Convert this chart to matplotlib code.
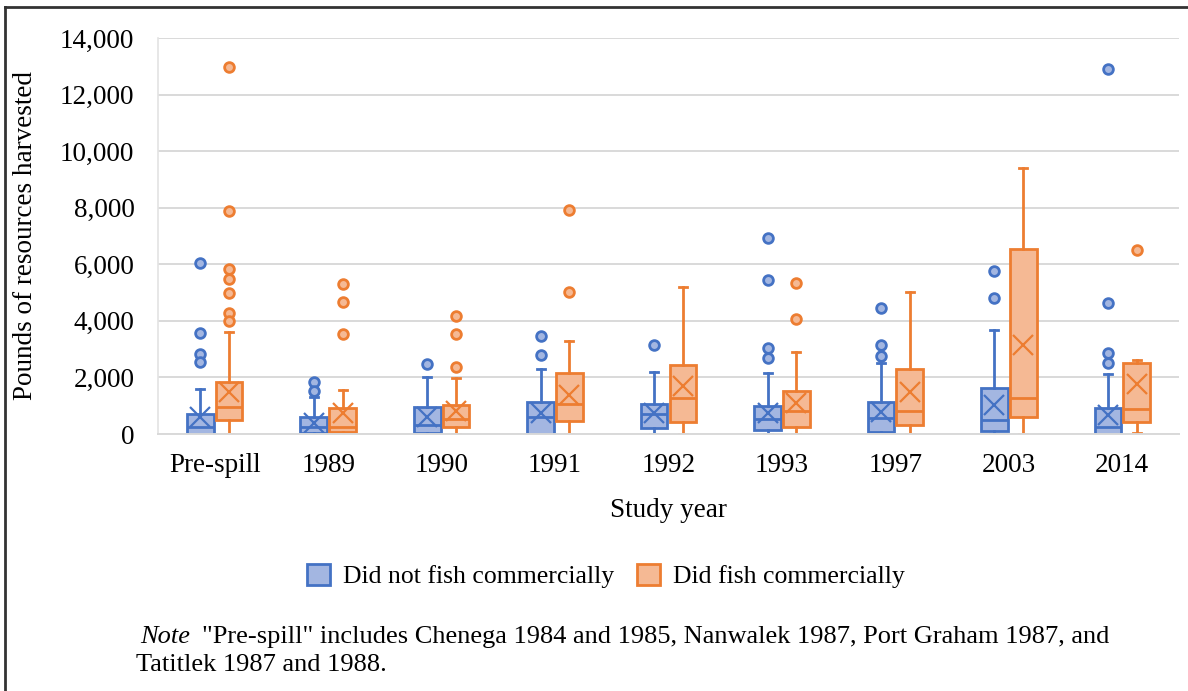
import numpy as np
import matplotlib
matplotlib.use('Agg')
import matplotlib.pyplot as plt
from matplotlib.patches import Patch
from matplotlib.lines import Line2D
from matplotlib.ticker import FuncFormatter

plt.rcParams['font.family'] = ['Liberation Serif', 'DejaVu Serif']

# data
categories = ['Pre-spill', '1989', '1990', '1991', '1992', '1993', '1997', '2003', '2014']

# did not fish commercially
no_lo = [0, 0, 0, 0, 0, 0, 0, 0, 0]
no_q1 = [0, 50, 25, 0, 200, 140, 80, 105, 0]
no_med = [260, 260, 320, 590, 695, 520, 555, 495, 235]
no_q3 = [707, 590, 965, 1120, 1050, 1000, 1120, 1615, 905]
no_hi = [1590, 1320, 2000, 2300, 2190, 2170, 2520, 3680, 2110]
no_mean = [600, 390, 590, 730, 730, 730, 790, 1025, 670]
no_out = [[6030, 3580, 2830, 2530], [1830, 1530], [2475], [3475, 2790], [3160],
          [6940, 5430, 3030, 2700], [4470, 3150, 2760], [5760, 4820],
          [12915, 4620, 2850, 2520]]

# did fish commercially
yes_lo = [0, 0, 0, 0, 0, 0, 0, 0, 50]
yes_q1 = [495, 80, 260, 460, 435, 260, 320, 610, 435]
yes_med = [965, 260, 520, 1060, 1260, 810, 810, 1260, 870]
yes_q3 = [1850, 930, 1025, 2145, 2440, 1520, 2300, 6540, 2500]
yes_hi = [3620, 1555, 1970, 3300, 5210, 2910, 5030, 9390, 2615]
yes_mean = [1500, 730, 810, 1380, 1700, 1085, 1470, 3145, 1755]
yes_out = [[12990, 7880, 5830, 5480, 4970, 4290, 3990], [5290, 4680, 3535],
           [4180, 3520, 2355], [7920, 5010], [], [5325, 4050], [], [], [6505]]

series_names = ['Did not fish commercially', 'Did fish commercially']
edge_cols = ['#4472C4', '#ED7D31']
face_cols = ['#A3B6E1', '#F5B994']

fig = plt.figure(figsize=(11.88, 6.91), dpi=100)
ax = fig.add_axes([158 / 1188, 1 - 434 / 691, (1179 - 158) / 1188, (434 - 38) / 691])

x = np.arange(len(categories))
groups = [(no_lo, no_q1, no_med, no_q3, no_hi, no_mean, no_out),
          (yes_lo, yes_q1, yes_med, yes_q3, yes_hi, yes_mean, yes_out)]
offsets = [-0.127, 0.127]

for (lo, q1, med, q3, hi, mean, out), off, ec, fc in zip(groups, offsets, edge_cols, face_cols):
    stats = []
    for i in range(len(categories)):
        stats.append(dict(whislo=lo[i], q1=q1[i], med=med[i], q3=q3[i], whishi=hi[i],
                          mean=mean[i], fliers=out[i]))
    ax.bxp(stats, positions=x + off, widths=0.235, patch_artist=True,
           showmeans=True, capwidths=0.07,
           boxprops=dict(facecolor=fc, edgecolor=ec, linewidth=2),
           medianprops=dict(color=ec, linewidth=2),
           whiskerprops=dict(color=ec, linewidth=2),
           capprops=dict(color=ec, linewidth=2),
           meanprops=dict(marker='x', markeredgecolor=ec, markersize=14, markeredgewidth=1.6),
           flierprops=dict(marker='o', markerfacecolor=fc, markeredgecolor=ec,
                           markersize=7, markeredgewidth=2))

ax.set_xlim(-0.5, len(categories) - 0.5)
ax.set_ylim(0, 14000)
ax.set_yticks(np.arange(0, 14001, 2000))
ax.yaxis.set_major_formatter(FuncFormatter(lambda v, p: f'{int(v):,}'))
ax.set_xticks(x)
ax.set_xticklabels(categories)
ax.tick_params(axis='both', length=0, labelsize=19.5)
ax.tick_params(axis='y', pad=17)
ax.tick_params(axis='x', pad=14)
ax.grid(axis='y', color='#D9D9D9', linewidth=1.4)
ax.set_axisbelow(True)
for s in ['top', 'right']:
    ax.spines[s].set_visible(False)
ax.spines['left'].set_color('#E3E3E3')
ax.spines['left'].set_linewidth(1.2)
ax.spines['bottom'].set_color('#D9D9D9')
ax.spines['bottom'].set_linewidth(1.4)

ax.set_xlabel('Study year', fontsize=19.5, labelpad=14)
ax.set_ylabel('Pounds of resources harvested', fontsize=19.5)
ax.yaxis.set_label_coords(-0.118, 0.5)

handles = [Patch(facecolor=face_cols[i], edgecolor=edge_cols[i], linewidth=2) for i in range(2)]
fig.legend(handles, series_names, loc='center', bbox_to_anchor=(606 / 1188, 1 - 576 / 691),
           ncol=2, frameon=False, fontsize=18.5, handlelength=0.9, handleheight=0.9,
           handletextpad=0.5, columnspacing=0.9)

# note text below
note_y1 = 1 - 637 / 691
note_y2 = 1 - 665 / 691
t_note = fig.text(140 / 1188, note_y1, 'Note', style='italic', fontsize=19, va='center')
fig.canvas.draw()
bb = t_note.get_window_extent()
fig.text((bb.x1 + 12) / 1188, note_y1,
         '"Pre-spill" includes Chenega 1984 and 1985, Nanwalek 1987, Port Graham 1987, and',
         fontsize=19, va='center')
fig.text(136 / 1188, note_y2, 'Tatitlek 1987 and 1988.', fontsize=19, va='center')

# outer frame lines (left and top)
fig.add_artist(Line2D([5 / 1188, 5 / 1188], [0, 1 - 7 / 691], transform=fig.transFigure,
                      color='#333333', linewidth=2))
fig.add_artist(Line2D([5 / 1188, 1], [1 - 7 / 691, 1 - 7 / 691], transform=fig.transFigure,
                      color='#333333', linewidth=2))

fig.savefig('out.png', dpi=100)
